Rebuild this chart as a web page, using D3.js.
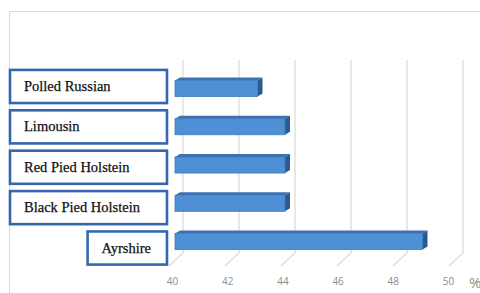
<!DOCTYPE html>
<html><head><meta charset="utf-8">
<script src="https://cdn.jsdelivr.net/npm/d3@7"></script>
<style>html,body{margin:0;padding:0;background:#fff;overflow:hidden}
.lbl{font-family:"Liberation Serif","Times New Roman",Tinos,"DejaVu Serif",serif;}</style>
</head><body>
<svg id="c" width="480" height="293"></svg>
<script>
const categories = ["Polled Russian", "Limousin", "Red Pied Holstein", "Black Pied Holstein", "Ayrshire"];
const values = [43, 44, 44, 44, 49];
const tickValues = [40, 42, 44, 46, 48, 50];
const unitLabel = "%";

const svg = d3.select("#c");

// chart frame
svg.append("path").attr("d", "M9.5,293 V11.5 H480").attr("fill", "none")
  .attr("stroke", "#d9d9d9").attr("stroke-width", 1);

const xBack = d3.scaleLinear().domain([40, 50]).range([183, 463]);
const xBar = d3.scaleLinear().domain([40, 50]).range([175, 450]);
const xLab = d3.scaleLinear().domain([40, 50]).range([172, 448]);
const y = d3.scaleBand().domain(categories).range([69.3, 260.7]).paddingInner(0.58).paddingOuter(0.29);
const yBox = d3.scaleBand().domain(categories).range([66.3, 268.2]).paddingInner(0.18).paddingOuter(0.09);

const wallTop = 60, wallBottom = 253, ddx = -14, ddy = 13;

// gridlines
const g = svg.append("g");
tickValues.forEach(t => {
  g.append("line").attr("x1", xBack(t)).attr("x2", xBack(t)).attr("y1", wallTop).attr("y2", wallBottom)
    .attr("stroke", "#d9d9d9").attr("stroke-width", 1.2);
  g.append("line").attr("x1", xBack(t)).attr("x2", xBack(t) + ddx).attr("y1", wallBottom).attr("y2", wallBottom + ddy)
    .attr("stroke", "#d9d9d9").attr("stroke-width", 1.2);
});

// axis labels
const ax = svg.append("g").attr("transform", "translate(0,285)")
  .call(d3.axisBottom(xLab).tickValues(tickValues).tickSize(0).tickPadding(0));
ax.select(".domain").remove();
ax.selectAll("text").attr("fill", "#8c8c8c").attr("font-family", "'Open Sans', sans-serif").attr("font-size", 10)
  .attr("dy", 0);
svg.append("text").attr("x", 469).attr("y", 288).text(unitLabel)
  .attr("fill", "#8c8c8c").attr("font-family", "'Open Sans', sans-serif").attr("font-size", 15);

// bars (3D)
const dx = 5, dy = -3;
const bars = svg.append("g");
categories.forEach((c, i) => {
  const x0 = xBar(40), x1 = xBar(values[i]), y0 = y(c), h = y.bandwidth();
  bars.append("path").attr("d", `M${x0},${y0} L${x0+dx},${y0+dy} L${x1+dx},${y0+dy} L${x1},${y0} Z`)
    .attr("fill", "#3c70b0");
  bars.append("path").attr("d", `M${x1},${y0} L${x1+dx},${y0+dy} L${x1+dx},${y0+h+dy} L${x1},${y0+h} Z`)
    .attr("fill", "#2c5a8e");
  bars.append("rect").attr("x", x0).attr("y", y0).attr("width", x1 - x0).attr("height", h)
    .attr("fill", "#4f8fd5").attr("stroke", "#4079bb").attr("stroke-width", 0.8);
});

// label boxes
const boxes = svg.append("g");
categories.forEach((c, i) => {
  const t = boxes.append("text").text(c).attr("class", "lbl")
    .attr("font-size", 14.5).attr("fill", "#111").attr("stroke", "#111").attr("stroke-width", 0.25);
  const tw = t.node().getComputedTextLength();
  const right = 167;
  const w = i === categories.length - 1 ? tw + 30 : 157;
  const left = right - w;
  const yc = yBox(c) + yBox.bandwidth() / 2;
  boxes.insert("rect", "text").attr("x", left).attr("y", yBox(c)).attr("width", w).attr("height", yBox.bandwidth())
    .attr("fill", "#fff").attr("stroke", "#3467b0").attr("stroke-width", 2.6);
  t.attr("x", left + 14).attr("y", yc + 4.5);
});
</script>
</body></html>
